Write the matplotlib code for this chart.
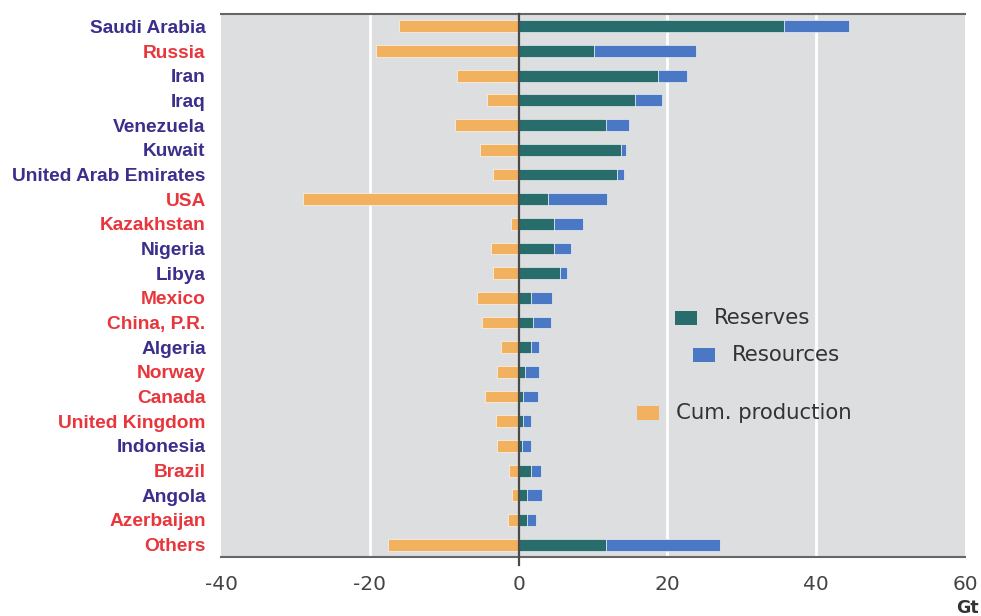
import matplotlib
matplotlib.use("Agg")
import matplotlib.pyplot as plt
from matplotlib.patches import Rectangle

countries = ["Saudi Arabia", "Russia", "Iran", "Iraq", "Venezuela", "Kuwait",
             "United Arab Emirates", "USA", "Kazakhstan", "Nigeria", "Libya",
             "Mexico", "China, P.R.", "Algeria", "Norway", "Canada",
             "United Kingdom", "Indonesia", "Brazil", "Angola", "Azerbaijan", "Others"]
label_group = ["opec", "other", "opec", "opec", "opec", "opec",
               "opec", "other", "other", "opec", "opec",
               "other", "other", "opec", "other", "other",
               "other", "opec", "other", "opec", "other", "other"]
reserves = [35.7, 10.2, 18.8, 15.6, 11.7, 13.7, 13.2, 3.9, 4.7, 4.8, 5.6,
            1.6, 2.0, 1.6, 0.9, 0.6, 0.6, 0.5, 1.6, 1.1, 1.1, 11.8]
resources = [8.7, 13.6, 3.8, 3.7, 3.1, 0.7, 0.9, 8.0, 4.0, 2.3, 0.9,
             2.9, 2.3, 1.2, 1.9, 2.0, 1.1, 1.1, 1.4, 2.1, 1.3, 15.3]
cum_production = [-16.1, -19.2, -8.3, -4.2, -8.6, -5.2, -3.5, -29.0, -1.0, -3.7, -3.4,
                  -5.6, -4.9, -2.4, -2.9, -4.5, -3.1, -2.9, -1.3, -0.9, -1.4, -17.5]
xticks = [-40, -20, 0, 20, 40, 60]

c_res = "#286c6b"
c_rsc = "#4a78c4"
c_cum = "#f2b15f"
c_bg = "#dcdedf"
label_colors = {"opec": "#3b2f8c", "other": "#e8363c"}

fig = plt.figure(figsize=(9.81, 6.16), dpi=100)
ax = fig.add_axes([221/981, 1-557/616, (965-221)/981, (557-14)/616])
ax.set_facecolor(c_bg)

y = list(range(len(countries)))
h = 0.48
ax.barh(y, cum_production, height=h, color=c_cum, edgecolor="white", linewidth=0.4, zorder=3)
ax.barh(y, reserves, height=h, color=c_res, edgecolor="white", linewidth=0.4, zorder=3)
ax.barh(y, resources, left=reserves, height=h, color=c_rsc, edgecolor="white", linewidth=0.4, zorder=3)

ax.set_xlim(-40, 60)
ax.set_ylim(len(countries) - 0.5, -0.5)
ax.set_xticks(xticks)
ax.set_xticklabels([str(t) for t in xticks], fontsize=14.5, color="#444444", family="DejaVu Sans")
ax.set_yticks(y)
ax.set_yticklabels(countries, fontsize=13.8, fontweight="bold", family="Liberation Sans")
for lab, g in zip(ax.get_yticklabels(), label_group):
    lab.set_color(label_colors[g])
ax.tick_params(axis="y", length=0, pad=11)
ax.tick_params(axis="x", length=0, pad=13)

for gx in [-20, 20, 40]:
    ax.axvline(gx, color="white", lw=2, zorder=1)
ax.axvline(0, color="#4a4a4a", lw=1.6, zorder=4, ymin=-0.015, ymax=1, clip_on=False)

for side in ["left", "right"]:
    ax.spines[side].set_visible(False)
for side in ["top", "bottom"]:
    ax.spines[side].set_color("#666666")
    ax.spines[side].set_linewidth(1.5)

# legend (staggered entries)
legend_items = [("Reserves", c_res, 675, 318), ("Resources", c_rsc, 693, 355),
                ("Cum. production", c_cum, 637, 413)]
for text, col, px, py in legend_items:
    fig.patches.append(Rectangle((px/981, 1-(py+7)/616), 22/981, 14/616,
                                 transform=fig.transFigure, facecolor=col, edgecolor="none"))
    fig.text((px+39)/981, 1-py/616, text, fontsize=15.3, color="#333333",
             va="center", ha="left", family="DejaVu Sans")

fig.text(979/981, 1-608/616, "Gt", fontsize=12.5, fontweight="bold",
         color="#333333", ha="right", va="center")

fig.savefig("out.png", dpi=100, facecolor="white")
